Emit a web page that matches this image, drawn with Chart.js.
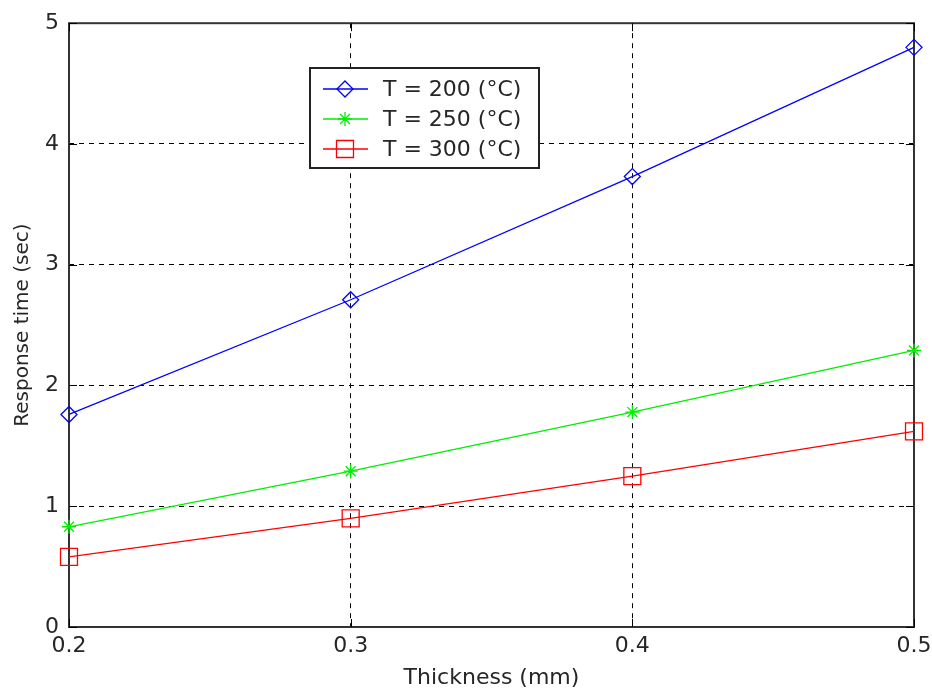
<!DOCTYPE html>
<html>
<head>
<meta charset="utf-8">
<script src="https://cdn.jsdelivr.net/npm/chart.js@4/dist/chart.umd.min.js"></script>
<style>
  html, body { margin: 0; padding: 0; background: #fff; }
  #wrap { width: 932px; height: 695px; }
</style>
</head>
<body>
<div id="wrap"><canvas id="lineChart" width="932" height="695"></canvas></div>
<script>
const thickness = [0.2, 0.3, 0.4, 0.5];
const t200 = [1.76, 2.71, 3.73, 4.80];
const t250 = [0.83, 1.29, 1.78, 2.29];
const t300 = [0.58, 0.90, 1.25, 1.62];
const seriesLabels = ['T = 200 (°C)', 'T = 250 (°C)', 'T = 300 (°C)'];

const FONT = "'DejaVu Sans', Verdana, sans-serif";
const TXT = '#262626';

function pts(ys) {
  return thickness.map((x, i) => ({ x: x, y: ys[i] }));
}

// frame, inward ticks and the legend box inside the plot
const matlabBits = {
  id: 'matlabBits',
  beforeDatasetsDraw(chart) {
    const { ctx, chartArea: a, scales } = chart;
    ctx.save();
    ctx.strokeStyle = '#333';
    ctx.lineWidth = 2;
    ctx.strokeRect(a.left, a.top, a.right - a.left, a.bottom - a.top);
    ctx.lineWidth = 1;
    ctx.strokeStyle = '#000';
    ctx.beginPath();
    scales.x.ticks.forEach(t => {
      const px = Math.round(scales.x.getPixelForValue(t.value)) + 0.5;
      ctx.moveTo(px, a.bottom); ctx.lineTo(px, a.bottom - 8);
      ctx.moveTo(px, a.top); ctx.lineTo(px, a.top + 8);
    });
    scales.y.ticks.forEach(t => {
      const py = Math.round(scales.y.getPixelForValue(t.value)) + 0.5;
      ctx.moveTo(a.left, py); ctx.lineTo(a.left + 8, py);
      ctx.moveTo(a.right, py); ctx.lineTo(a.right - 8, py);
    });
    ctx.stroke();
    ctx.restore();
  },
  afterDraw(chart) {
    const { ctx } = chart;
    const bx = 310, by = 68, bw = 229, bh = 100;
    ctx.save();
    ctx.fillStyle = '#fff';
    ctx.fillRect(bx, by, bw, bh);
    ctx.strokeStyle = '#222';
    ctx.lineWidth = 2;
    ctx.strokeRect(bx, by, bw, bh);
    chart.data.datasets.forEach((ds, i) => {
      const yy = 89 + i * 30;
      ctx.strokeStyle = ds.borderColor;
      ctx.fillStyle = 'rgba(0,0,0,0)';
      ctx.lineWidth = 1.3;
      ctx.beginPath();
      ctx.moveTo(323, yy); ctx.lineTo(368, yy);
      ctx.stroke();
      Chart.helpers.drawPoint(ctx, {
        pointStyle: ds.pointStyle,
        radius: ds.pointRadius,
        borderWidth: 1.3,
        rotation: 0
      }, 345, yy);
      ctx.fillStyle = TXT;
      ctx.font = '22px ' + FONT;
      ctx.textBaseline = 'middle';
      ctx.fillText(ds.label, 383, yy + 1);
    });
    ctx.restore();
  }
};

const ctx = document.getElementById('lineChart').getContext('2d');
new Chart(ctx, {
  type: 'line',
  data: {
    datasets: [
      { label: seriesLabels[0], data: pts(t200), borderColor: '#0000ff',
        pointStyle: 'rectRot', pointRadius: 8 },
      { label: seriesLabels[1], data: pts(t250), borderColor: '#00ee00',
        pointStyle: 'star', pointRadius: 7 },
      { label: seriesLabels[2], data: pts(t300), borderColor: '#ff0000',
        pointStyle: 'rect', pointRadius: 12 }
    ].map(d => Object.assign(d, {
      backgroundColor: 'rgba(0,0,0,0)',
      pointBackgroundColor: 'rgba(0,0,0,0)',
      pointBorderColor: d.borderColor,
      borderWidth: 1.3,
      pointBorderWidth: 1.3,
      tension: 0
    }))
  },
  options: {
    responsive: false,
    animation: false,
    clip: false,
    layout: { padding: { left: 0, right: 0, top: 19, bottom: 0 } },
    plugins: {
      legend: { display: false },
      tooltip: { enabled: false }
    },
    scales: {
      x: {
        type: 'linear',
        min: 0.2,
        max: 0.5,
        ticks: {
          stepSize: 0.1,
          color: TXT,
          font: { family: FONT, size: 22 },
          padding: 6,
          callback: v => v.toFixed(1)
        },
        grid: { color: '#000', lineWidth: 1, drawTicks: false },
        border: { display: false, dash: [5, 5] },
        title: {
          display: true,
          text: 'Thickness (mm)',
          color: TXT,
          font: { family: FONT, size: 22 },
          padding: { top: 8, bottom: 4 }
        },
        afterFit: s => { s.height = 68; s.paddingRight = 18; }
      },
      y: {
        min: 0,
        max: 5,
        ticks: {
          stepSize: 1,
          color: TXT,
          font: { family: FONT, size: 22 },
          padding: 10
        },
        grid: { color: '#000', lineWidth: 1, drawTicks: false },
        border: { display: false, dash: [5, 5] },
        title: {
          display: true,
          text: 'Response time (sec)',
          color: TXT,
          font: { family: FONT, size: 20 },
          padding: { top: 11, bottom: 4 }
        },
        afterFit: s => { s.width = 69; }
      }
    }
  },
  plugins: [matlabBits]
});
</script>
</body>
</html>
